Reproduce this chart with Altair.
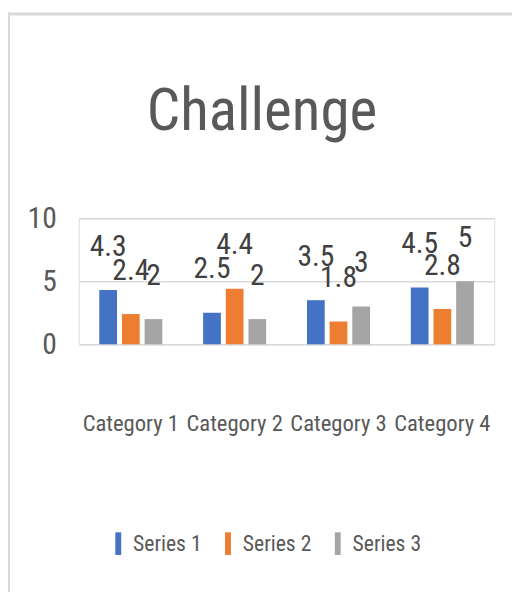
import altair as alt
import pandas as pd

title_text = "Challenge"
categories = ["Category 1", "Category 2", "Category 3", "Category 4"]
series_names = ["Series 1", "Series 2", "Series 3"]
series1 = [4.3, 2.5, 3.5, 4.5]
series2 = [2.4, 4.4, 1.8, 2.8]
series3 = [2, 2, 3, 5]
colors = ["#4472C4", "#ED7D31", "#A5A5A5"]
y_ticks = [0, 5, 10]

rows = []
for name, vals in zip(series_names, [series1, series2, series3]):
    for c, v in zip(categories, vals):
        rows.append({"category": c, "series": name, "value": v, "label": f"{v:g}"})
df = pd.DataFrame(rows)

FONT = "Roboto Condensed"
GRAY_TEXT = "#595959"

x_enc = alt.X(
    "category:N", sort=categories,
    scale=alt.Scale(paddingInner=0, paddingOuter=0),
    axis=alt.Axis(title=None, labelAngle=0, domain=False, ticks=False, tickSize=0,
                  labelFont=FONT, labelFontSize=23, labelColor=GRAY_TEXT,
                  labelBaseline="alphabetic", labelPadding=88, grid=False,
                  labelOverlap=False),
)
xo_enc = alt.XOffset("series:N", sort=series_names,
                     scale=alt.Scale(paddingInner=0.217, paddingOuter=0.9))
y_enc = alt.Y(
    "value:Q", scale=alt.Scale(domain=[0, 10]),
    axis=alt.Axis(values=y_ticks, title=None, domain=False, ticks=False, tickSize=0,
                  labelFont=FONT, labelFontSize=30, labelColor=GRAY_TEXT,
                  labelPadding=23, gridColor="#d9d9d9", gridWidth=1.5),
)

bars = alt.Chart(df).mark_bar().encode(
    x=x_enc, xOffset=xo_enc, y=y_enc,
    color=alt.Color(
        "series:N", sort=series_names,
        scale=alt.Scale(domain=series_names, range=colors),
        legend=alt.Legend(title=None, orient="none", direction="horizontal",
                          legendX=28.5, legendY=319,
                          symbolType="M-0.26,-1H0.26V1H-0.26Z", symbolSize=529,
                          symbolStrokeWidth=0, labelFont=FONT, labelFontSize=22,
                          labelColor=GRAY_TEXT, labelOffset=3.5, columnPadding=14.5,
                          padding=0),
    ),
)

labels = alt.Chart(df).mark_text(
    font=FONT, fontSize=30, color="#404040", baseline="alphabetic", align="center", dy=-35
).encode(x=x_enc, xOffset=xo_enc, y=y_enc, text="label:N")

one = pd.DataFrame({"t": [title_text]})
title = alt.Chart(one).mark_text(
    font=FONT, fontSize=60, color=GRAY_TEXT, baseline="alphabetic", align="center"
).encode(text="t:N", x=alt.value(186), y=alt.value(-90))

top_border = alt.Chart(one).mark_rule(color="#d9d9d9", strokeWidth=3).encode(
    x=alt.value(-72), x2=alt.value(440), y=alt.value(-207.5))
left_border = alt.Chart(one).mark_rule(color="#d9d9d9", strokeWidth=2).encode(
    x=alt.value(-71), y=alt.value(-209), y2=alt.value(380))

chart = alt.layer(top_border, left_border, title, bars, labels).properties(
    width=422, height=128,
    autosize=alt.AutoSizeParams(type="none"),
    padding={"left": 72, "top": 209, "right": 18, "bottom": 248},
).configure_view(stroke=None).configure(background="white")

chart.save("out.html", embed_options={"renderer": "svg", "actions": False})
